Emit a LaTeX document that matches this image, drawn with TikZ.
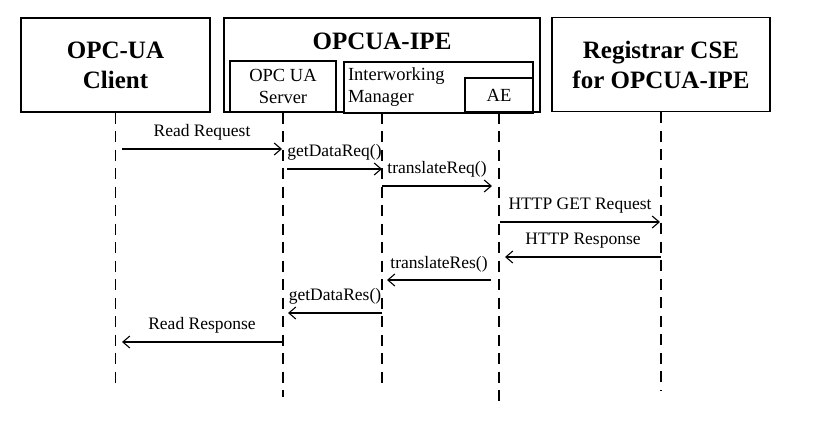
\documentclass[tikz,border=0pt]{standalone}
\usepackage{fontspec}
\setmainfont{Liberation Serif}
\usetikzlibrary{arrows.meta}

\begin{document}
\begin{tikzpicture}[x=1pt, y=-1pt,
        bigbox/.style={rectangle, draw, line width=1.5pt, align=center, font=\fontsize{25}{30}\selectfont\bfseries},
        inbox/.style={rectangle, draw, line width=1.3pt, fill=white, align=center, inner sep=4pt, font=\fontsize{18.5}{22}\selectfont},
        lifeline/.style={line width=1.1pt, dash pattern=on 11pt off 7.5pt},
        msg/.style={-{Straight Barb[length=7pt,width=12pt]}, line width=1.1pt},
        msglabel/.style={above=7pt, inner sep=1pt, text depth=4pt, font=\fontsize{17.5}{21}\selectfont}
    ]
        \useasboundingbox (0,0) rectangle (822,430);

        % participants
        \node[bigbox, minimum width=189pt, minimum height=94pt] (client) at (115.5,65) {OPC-UA\\Client};
        \node[bigbox, minimum width=316pt, minimum height=94pt] (ipe)    at (382,65)   {};
        \node[anchor=base, font=\fontsize{25}{30}\selectfont\bfseries] (ipetitle) at (382,50) {OPCUA-IPE};
        \node[inbox, minimum width=106pt, minimum height=51pt] (server) at (283,86.5) {OPC UA\\Server};
        \node[inbox, minimum height=51pt, text width=181pt, align=left] (im) at (438.5,87.5) {Interworking\\Manager};
        \node[inbox, minimum width=68pt, minimum height=34pt] (ae) at (499,95) {AE};
        \node[bigbox, minimum width=218pt, minimum height=94pt] (reg) at (661,64.5) {Registrar CSE\\for OPCUA-IPE};

        % lifelines
        \coordinate (client-end) at (115.5,390);
        \coordinate (server-end) at (283,397);
        \coordinate (ipe-end)    at (382,390);
        \coordinate (ae-end)     at (499,403);
        \coordinate (reg-end)    at (661,390);
        \draw[lifeline] (client) -- (client-end);
        \draw[lifeline] (server) -- (server-end);
        \draw[lifeline] (ipe) -- (ipe-end);
        \draw[lifeline] (ae) -- (ae-end);
        \draw[lifeline] (reg) -- (reg-end);

        % messages
        \coordinate (rreq-a)  at (122,149); \coordinate (rreq-b)  at (282,149);
        \coordinate (gdreq-a) at (287,169); \coordinate (gdreq-b) at (382,169);
        \coordinate (treq-a)  at (382,186); \coordinate (treq-b)  at (492,186);
        \coordinate (hreq-a)  at (500,222); \coordinate (hreq-b)  at (660,222);
        \coordinate (hres-a)  at (661,257); \coordinate (hres-b)  at (505,257);
        \coordinate (tres-a)  at (491,280); \coordinate (tres-b)  at (387,280);
        \coordinate (gdres-a) at (382,313); \coordinate (gdres-b) at (288,313);
        \coordinate (rres-a)  at (282,342); \coordinate (rres-b)  at (122,342);

        \draw[msg] (rreq-a) -- node[msglabel]{Read Request} (rreq-b);
        \draw[msg] (gdreq-a) -- node[msglabel]{getDataReq()} (gdreq-b);
        \draw[msg] (treq-a) -- node[msglabel]{translateReq()} (treq-b);
        \draw[msg] (hreq-a) -- node[msglabel]{HTTP GET Request} (hreq-b);
        \draw[msg] (hres-a) -- node[msglabel]{HTTP Response} (hres-b);
        \draw[msg] (tres-a) -- node[msglabel, above=-1pt]{translateRes()} (tres-b);
        \draw[msg] (gdres-a) -- node[msglabel]{getDataRes()} (gdres-b);
        \draw[msg] (rres-a) -- node[msglabel, above=0pt]{Read Response} (rres-b);
    \end{tikzpicture}
\end{document}
